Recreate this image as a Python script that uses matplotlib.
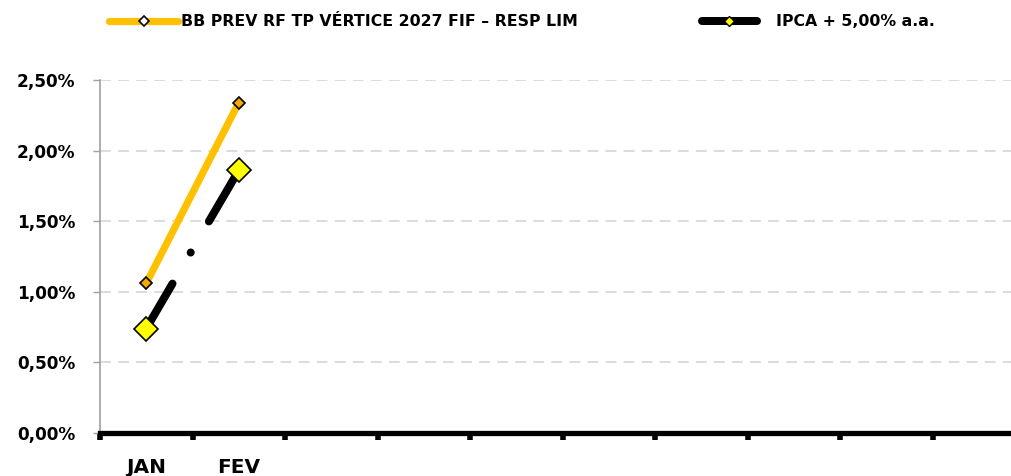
import matplotlib
matplotlib.use("Agg")
import matplotlib.pyplot as plt
from matplotlib.lines import Line2D
from matplotlib.ticker import FixedLocator, FuncFormatter

# ---- data ----
months = ["JAN", "FEV", "", "", "", "", "", "", "", "", ""]
fund_name = "BB PREV RF TP VÉRTICE 2027 FIF – RESP LIM"
bench_name = "IPCA + 5,00% a.a."
fund_values = [1.06, 2.34]      # %
bench_values = [0.74, 1.86]     # %
y_ticks = [0.0, 0.5, 1.0, 1.5, 2.0, 2.5]

plt.rcParams['font.family'] = ['DejaVu Sans']
plt.rcParams['font.weight'] = 'bold'

W, H = 1011, 476
fig = plt.figure(figsize=(W / 100, H / 100), dpi=100)
left = 100 / W
bottom = (H - 433) / H
top = (H - 80) / H
ax = fig.add_axes([left, bottom, 1 - left, top - bottom])

gold = "#FFC000"
gold_marker = "#F2AA00"
yellow = "#FFFF00"

x_fund = list(range(len(fund_values)))
x_bench = list(range(len(bench_values)))

ax.plot(x_fund, fund_values, color=gold, lw=5.2, solid_capstyle='round', zorder=3,
        marker='D', ms=6.6, mfc=gold_marker, mec='black', mew=1.2)
ax.plot(x_bench, bench_values, color='black', lw=5.76, dash_capstyle='round',
        dashes=(6.5, 4.5, 0.01, 4.5), zorder=4,
        marker='D', ms=12.2, mfc=yellow, mec='black', mew=1.2)

# axes limits
cat_w = 92.5  # px per category
ax.set_xlim(-0.5, (W - 100) / cat_w - 0.5)
ax.set_ylim(0, 2.5)

# grid
ax.yaxis.set_major_locator(FixedLocator(y_ticks))
ax.yaxis.set_major_formatter(FuncFormatter(lambda v, p: f"{v:.2f}%".replace('.', ',')))
ax.grid(axis='y', color='#D9D9D9', lw=1.3, linestyle=(0, (6, 4)))
ax.set_axisbelow(True)

# x ticks: labels at categories, tick marks at boundaries
ax.xaxis.set_major_locator(FixedLocator(range(len(months))))
ax.set_xticklabels(months)
ax.xaxis.set_minor_locator(FixedLocator([i - 0.5 for i in range(len(months) + 1)]))
ax.tick_params(axis='x', which='major', length=0, pad=18, labelsize=14.5)
ax.tick_params(axis='x', which='minor', length=5, width=4, color='black', direction='out')
ax.tick_params(axis='y', which='major', length=5, width=1, color='#A0A0A0', pad=13, labelsize=12.2)

for s in ['top', 'right']:
    ax.spines[s].set_visible(False)
ax.spines['left'].set_color('#A0A0A0')
ax.spines['left'].set_linewidth(1.2)
ax.spines['bottom'].set_color('black')
ax.spines['bottom'].set_linewidth(3.8)

# legends
h1 = Line2D([], [], color=gold, lw=5.2, solid_capstyle='round', marker='D', ms=5.5,
            mfc='white', mec='black', mew=1.2)
h2 = Line2D([], [], color='black', lw=5.76, solid_capstyle='round', marker='D', ms=5.5,
            mfc=yellow, mec='black', mew=1.0)
fs = 11.3
l1 = fig.legend([h1], [fund_name], loc='center left', bbox_to_anchor=(109 / W, 1 - 22 / H),
                frameon=False, fontsize=fs, handlelength=4.4, handletextpad=0.2,
                borderpad=0, borderaxespad=0)
l2 = fig.legend([h2], [bench_name], loc='center left', bbox_to_anchor=(702 / W, 1 - 22 / H),
                frameon=False, fontsize=fs, handlelength=3.5, handletextpad=1.2,
                borderpad=0, borderaxespad=0)

fig.savefig("out.png", dpi=100)
